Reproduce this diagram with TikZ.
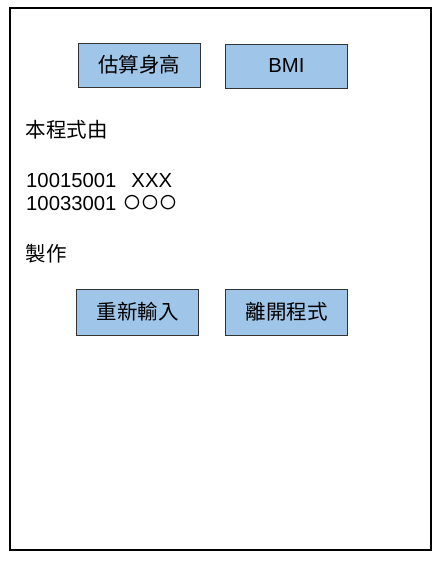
\documentclass[tikz,border=0pt]{standalone}
\usepackage{fontspec}
\setmainfont{Liberation Sans}
\newfontfamily\cjk{Noto Sans CJK TC}
\definecolor{btnblue}{HTML}{9FC5E8}
\definecolor{btnline}{HTML}{333333}
\begin{document}
\begin{tikzpicture}[x=1pt,y=-1pt,
  btn/.style={draw=btnline, fill=btnblue, line width=0.8pt, minimum width=122pt, minimum height=44pt, inner sep=0pt, font=\cjk\fontsize{20.5}{24}\selectfont},
  lbl/.style={anchor=base west, inner sep=0pt, font=\fontsize{20.3}{24}\selectfont},
  cjklbl/.style={lbl, font=\cjk\fontsize{20.5}{24}\selectfont}]
\useasboundingbox (0,0) rectangle (441,562);
\node[draw=black, line width=1.3pt, minimum width=421pt, minimum height=542pt, inner sep=0pt] (frame) at (220.5,279) {};
\node[btn] (est) at (139.3,65) {估算身高};
\node[btn, font=\fontsize{20.3}{24}\selectfont] (bmi) at (286.5,66) {BMI};
\node[btn, minimum height=46pt] (redo) at (137.5,312) {重新輸入};
\node[btn, minimum height=46pt] (quit) at (286.5,312) {離開程式};
\node[cjklbl] (by) at (25.5,137.5) {本程式由};
\node[lbl] (s1) at (26,187) {10015001\hspace{15pt}XXX};
\node[lbl] (s2) at (26,210.5) {10033001 \smash{\raisebox{-2pt}{\fontsize{33}{24}\selectfont ○\kern-2pt○\kern-2pt○}}};
\node[cjklbl] (made) at (25.5,261.5) {製作};
\end{tikzpicture}
\end{document}
